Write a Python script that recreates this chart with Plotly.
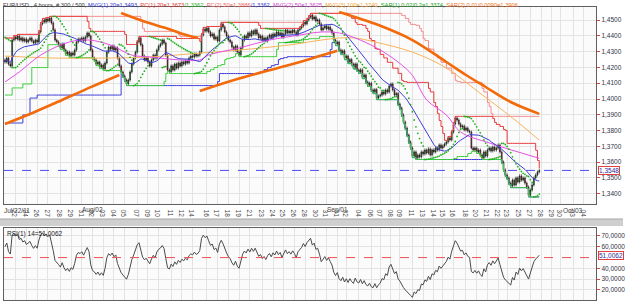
import plotly.graph_objects as go

# ---------------- data ----------------
CLOSE = [
1.4234, 1.4259, 1.4221, 1.4209, 1.4373, 1.4392, 1.4380, 1.4399, 1.4373, 1.4386,
1.4367, 1.4380, 1.4361, 1.4373, 1.4386, 1.4367, 1.4354, 1.4373, 1.4361, 1.4424,
1.4475, 1.4500, 1.4487, 1.4506, 1.4494, 1.4513, 1.4481, 1.4437, 1.4373, 1.4361,
1.4342, 1.4323, 1.4348, 1.4310, 1.4285, 1.4297, 1.4272, 1.4291, 1.4278, 1.4310,
1.4361, 1.4380, 1.4373, 1.4386, 1.4367, 1.4392, 1.4418, 1.4399, 1.4310, 1.4259,
1.4247, 1.4221, 1.4234, 1.4202, 1.4215, 1.4190, 1.4228, 1.4297, 1.4329, 1.4316,
1.4335, 1.4310, 1.4323, 1.4259, 1.4209, 1.4171, 1.4146, 1.4120, 1.4095, 1.4120,
1.4171, 1.4221, 1.4259, 1.4297, 1.4361, 1.4386, 1.4342, 1.4272, 1.4247, 1.4259,
1.4234, 1.4209, 1.4247, 1.4278, 1.4259, 1.4310, 1.4335, 1.4348, 1.4373, 1.4354,
1.4278, 1.4184, 1.4171, 1.4209, 1.4184, 1.4221, 1.4196, 1.4228, 1.4209, 1.4234,
1.4221, 1.4240, 1.4228, 1.4259, 1.4272, 1.4266, 1.4285, 1.4272, 1.4278, 1.4297,
1.4405, 1.4443, 1.4430, 1.4449, 1.4424, 1.4399, 1.4411, 1.4380, 1.4392, 1.4367,
1.4437, 1.4475, 1.4456, 1.4424, 1.4399, 1.4373, 1.4361, 1.4329, 1.4310, 1.4335,
1.4297, 1.4278, 1.4323, 1.4373, 1.4399, 1.4386, 1.4418, 1.4399, 1.4430, 1.4411,
1.4437, 1.4411, 1.4386, 1.4399, 1.4373, 1.4386, 1.4367, 1.4392, 1.4405, 1.4386,
1.4411, 1.4399, 1.4424, 1.4405, 1.4418, 1.4392, 1.4411, 1.4437, 1.4418, 1.4430,
1.4418, 1.4437, 1.4424, 1.4405, 1.4437, 1.4449, 1.4462, 1.4487, 1.4475, 1.4500,
1.4519, 1.4532, 1.4506, 1.4519, 1.4494, 1.4500, 1.4475, 1.4437, 1.4449, 1.4462,
1.4443, 1.4456, 1.4437, 1.4418, 1.4373, 1.4348, 1.4360, 1.4310, 1.4291, 1.4305,
1.4259, 1.4272, 1.4234, 1.4250, 1.4221, 1.4200, 1.4222, 1.4184, 1.4171, 1.4185,
1.4139, 1.4152, 1.4108, 1.4089, 1.4100, 1.4057, 1.4044, 1.4060, 1.4006, 1.4019,
1.4025, 1.4044, 1.4032, 1.4057, 1.4044, 1.4082, 1.4095, 1.4057, 1.4025, 1.4035,
1.3968, 1.3943, 1.3899, 1.3854, 1.3816, 1.3772, 1.3728, 1.3690, 1.3639, 1.3665,
1.3627, 1.3646, 1.3633, 1.3665, 1.3652, 1.3677, 1.3658, 1.3684, 1.3646, 1.3677,
1.3665, 1.3690, 1.3677, 1.3709, 1.3690, 1.3703, 1.3715, 1.3728, 1.3753, 1.3741,
1.3791, 1.3842, 1.3880, 1.3867, 1.3842, 1.3823, 1.3829, 1.3804, 1.3816, 1.3797,
1.3791, 1.3690, 1.3677, 1.3690, 1.3665, 1.3677, 1.3646, 1.3627, 1.3665, 1.3639,
1.3677, 1.3690, 1.3671, 1.3696, 1.3677, 1.3690, 1.3709, 1.3665, 1.3601, 1.3551,
1.3519, 1.3500, 1.3468, 1.3449, 1.3487, 1.3456, 1.3500, 1.3475, 1.3513, 1.3487,
1.3500, 1.3468, 1.3443, 1.3390, 1.3424, 1.3456, 1.3500, 1.3519, 1.3538, 1.3548,
]
FIRST_OPEN = 1.4247
WICK = 0.0010

MA50_BARS = [0, 8, 20, 36, 47, 59, 71, 81, 98, 109, 114, 131, 148, 165, 177, 187,
             196, 208, 220, 228, 236, 247, 255, 271, 299]
MA50_VALS = [1.4108, 1.4171, 1.4278, 1.4361, 1.4373, 1.4342, 1.4278, 1.4266, 1.4247,
             1.4247, 1.4278, 1.4323, 1.4373, 1.4405, 1.4424, 1.4418, 1.4386, 1.4323,
             1.4234, 1.4150, 1.3994, 1.3899, 1.3791, 1.3722, 1.3625]
MA100_BARS = [0, 28, 56, 81, 103, 131, 159, 177, 187, 196, 207, 228, 247, 265, 284, 299]
MA100_VALS = [1.4272, 1.4259, 1.4259, 1.4266, 1.4285, 1.4310, 1.4342, 1.4373, 1.4386,
              1.4386, 1.4361, 1.4297, 1.4196, 1.4044, 1.3880, 1.3740]

# slow SAR(2), one list per trend leg
SAR2_LEGS = [
    ([0, 16, 32, 48, 64], [1.3842, 1.3915, 1.3994, 1.4075, 1.4152]),
    ([65, 78, 90, 100, 108], [1.4544, 1.4490, 1.4449, 1.4410, 1.4386]),
    ([109, 131, 159, 177, 186], [1.4051, 1.4130, 1.4215, 1.4275, 1.4305]),
    ([187, 209, 228, 247, 258, 269, 283, 299],
     [1.4551, 1.4468, 1.4373, 1.4234, 1.4152, 1.4076, 1.3981, 1.3906]),
]

# channel levels left by bars before the visible window: (last bar affected, level)
PC1_UP_SEED = [(19, 1.4386)]
PC1_LO_SEED = [(3, 1.4025), (9, 1.4070), (14, 1.4095), (19, 1.4215)]
PC2_UP_SEED = [(49, 1.4386)]
PC2_LO_SEED = [(9, 1.3848), (13, 1.3899), (17, 1.4006), (64, 1.4025)]
SAR1_START = dict(sar=1.4390, up=False, ep=1.4200, af=0.04)
RSI_START = (0.0012, 0.0008)
RSI_LAST_TEXT = "51,0062"

TICK_POS = [6, 12, 18, 24, 31, 37, 43, 49, 55, 61, 67, 74, 80, 86, 93, 99, 105, 113,
            119, 125, 131, 137, 144, 150, 156, 162, 168, 174, 180, 186, 191, 198, 205,
            210, 216, 221, 228, 234, 240, 245, 251, 258, 264, 270, 276, 281, 288, 294,
            300, 306, 311, 318, 324]
TICK_TEXT = ["22", "24", "26", "27", "28", "29", "31", "02", "03", "04", "05", "07",
             "09", "10", "11", "12", "14", "16", "17", "18", "19", "21", "23", "24",
             "25", "26", "28", "30", "31", "01", "02", "04", "06", "07", "08", "09",
             "11", "13", "14", "15", "16", "18", "20", "21", "22", "23", "25", "27",
             "28", "29", "30", "03", "04"]
MONTH_POS = [7, 49, 186, 318]
MONTH_TEXT = ["Jul/22/11", "Aug/02", "Sep/01", "Oct/03"]
PRICE_TICKS = [1.34, 1.35, 1.36, 1.37, 1.38, 1.39, 1.40, 1.41, 1.42, 1.43, 1.44, 1.45]
RSI_TICKS = [20, 30, 40, 60, 70]

# ---------------- derived series ----------------
n = len(CLOSE)
X = list(range(n))
OPEN = [FIRST_OPEN] + CLOSE[:-1]
HIGH = [max(o, c) + WICK for o, c in zip(OPEN, CLOSE)]
LOW = [min(o, c) - WICK for o, c in zip(OPEN, CLOSE)]


def ma(vals, w):
    out = []
    for i in range(len(vals)):
        seg = vals[max(0, i - w + 1):i + 1]
        out.append(sum(seg) / len(seg))
    return out


def seed_at(seed, i):
    for last, v in seed:
        if i <= last:
            return v
    return None


def channel(w, seed_up, seed_lo):
    up, lo = [], []
    for i in range(n):
        a = max(0, i - w + 1)
        h = max(HIGH[a:i + 1])
        l = min(LOW[a:i + 1])
        su, sl = seed_at(seed_up, i), seed_at(seed_lo, i)
        if su is not None:
            h = max(h, su)
        if sl is not None:
            l = min(l, sl)
        up.append(h)
        lo.append(l)
    return up, lo


def psar(step, maxaf, start):
    sar, up, ep, af = start["sar"], start["up"], start["ep"], start["af"]
    out = []
    for i in range(n):
        if i > 0:
            sar = sar + af * (ep - sar)
            if up:
                sar = min(sar, LOW[i - 1], LOW[max(0, i - 2)])
                if LOW[i] < sar:
                    up, sar, ep, af = False, ep, LOW[i], step
                elif HIGH[i] > ep:
                    ep, af = HIGH[i], min(af + step, maxaf)
            else:
                sar = max(sar, HIGH[i - 1], HIGH[max(0, i - 2)])
                if HIGH[i] > sar:
                    up, sar, ep, af = True, ep, HIGH[i], step
                elif LOW[i] < ep:
                    ep, af = LOW[i], min(af + step, maxaf)
        out.append(sar)
    return out


def rsi(vals, w, seed):
    ag, al = seed
    out = []
    for i in range(len(vals)):
        if i > 0:
            d = vals[i] - vals[i - 1]
            ag = (ag * (w - 1) + max(d, 0)) / w
            al = (al * (w - 1) + max(-d, 0)) / w
        out.append(100 - 100 / (1 + ag / al) if al > 0 else 100)
    return out


MA20 = ma(CLOSE, 20)
PC1_UP, PC1_LO = channel(20, PC1_UP_SEED, PC1_LO_SEED)
PC2_UP, PC2_LO = channel(50, PC2_UP_SEED, PC2_LO_SEED)
SAR1 = psar(0.02, 0.2, SAR1_START)
RSI = rsi(CLOSE, 14, RSI_START)

# ---------------- figure ----------------
W, H = 625, 303
def py(p):  # pixel row -> paper fraction
    return (H - p) / H
def px(p):
    return p / W

FONT = "Liberation Sans, Arial, sans-serif"
fig = go.Figure()

fig.add_trace(go.Candlestick(
    x=X, open=OPEN, high=HIGH, low=LOW, close=CLOSE,
    increasing=dict(line=dict(color="#141414", width=0.6), fillcolor="#0c8c1c"),
    decreasing=dict(line=dict(color="#141414", width=0.6), fillcolor="#b81818"),
    whiskerwidth=0, xaxis="x", yaxis="y", hoverinfo="skip"))

def line(y, color, width=1, shape="linear", xs=None):
    fig.add_trace(go.Scatter(x=xs if xs is not None else X, y=y, mode="lines",
                             line=dict(color=color, width=width, shape=shape),
                             xaxis="x", yaxis="y", hoverinfo="skip"))

line(PC2_UP, "#f58a8a", 1, "hv")
line(PC1_UP, "#e83a3a", 1, "hv")
line(PC2_LO, "#3b3bdc", 1, "hv")
line(PC1_LO, "#3ccf3c", 1, "hv")
line(MA100_VALS, "#f7b45a", 1, "spline", MA100_BARS)
line(MA50_VALS, "#e650e6", 1, "spline", MA50_BARS)
line(MA20, "#3d3dd6", 1)

fig.add_trace(go.Scatter(x=X, y=SAR1, mode="markers",
                         marker=dict(color="#22b022", size=1.8),
                         xaxis="x", yaxis="y", hoverinfo="skip"))
for bars, vals in SAR2_LEGS:
    line(vals, "#f26a0a", 2.6, "spline", bars)

fig.add_trace(go.Scatter(x=X, y=RSI, mode="lines",
                         line=dict(color="#4b4b4b", width=1),
                         xaxis="x2", yaxis="y2", hoverinfo="skip"))

xr = [-0.56, 330.8]
grid = "#e3e3e3"
axis_common = dict(range=xr, tickvals=TICK_POS, ticktext=TICK_TEXT, showgrid=True,
                   gridcolor=grid, gridwidth=1, zeroline=False, showline=True,
                   mirror=True, linecolor="#606060", linewidth=1,
                   domain=[px(4), px(598)], fixedrange=True)

fig.update_layout(
    width=W, height=H, margin=dict(l=0, r=0, t=0, b=0),
    paper_bgcolor="#ffffff", plot_bgcolor="#fbfbfb", showlegend=False,
    font=dict(family=FONT, size=7, color="#333333"),
    xaxis=dict(**axis_common, anchor="y", rangeslider=dict(visible=False),
               ticks="", tickfont=dict(size=6.5, color="#444444")),
    yaxis=dict(domain=[py(204), py(7)], range=[1.33354, 1.45823], side="right",
               tickvals=PRICE_TICKS, ticktext=[f"{v:.4f}".replace(".", ",") for v in PRICE_TICKS],
               ticks="outside", ticklen=3, tickcolor="#e04040",
               tickfont=dict(size=6.5, color="#333344"), showgrid=True, gridcolor=grid,
               zeroline=False, showline=True, mirror=True, linecolor="#606060",
               anchor="x", fixedrange=True),
    xaxis2=dict(**axis_common, anchor="y2", showticklabels=False, ticks=""),
    yaxis2=dict(domain=[py(300), py(228)], range=[10.7, 77.4], side="right",
                tickvals=RSI_TICKS,
                ticktext=[f"{v:.4f}".replace(".", ",") for v in RSI_TICKS],
                ticks="outside", ticklen=3, tickcolor="#e04040",
                tickfont=dict(size=6.5, color="#333344"), showgrid=True, gridcolor=grid,
                zeroline=False, showline=True, mirror=True, linecolor="#606060",
                anchor="x2", fixedrange=True),
)

# separator band between the panels
fig.add_shape(type="rect", xref="paper", yref="paper", x0=0, x1=1, y0=py(226), y1=py(219),
              fillcolor="#cfcfcf", line=dict(width=0), layer="below")
fig.add_shape(type="line", xref="paper", yref="paper", x0=0, x1=1, y0=py(219), y1=py(219),
              line=dict(color="#a8a8a8", width=1))

# current price line and RSI mid line
fig.add_shape(type="line", xref="x", yref="y", x0=xr[0], x1=xr[1], y0=CLOSE[-1], y1=CLOSE[-1],
              line=dict(color="#4b4bf0", width=1, dash="dash"))
fig.add_shape(type="line", xref="x2", yref="y2", x0=xr[0], x1=xr[1], y0=50, y1=50,
              line=dict(color="#f05050", width=1, dash="dash"))

fig.add_annotation(x=px(600), y=CLOSE[-1], xref="paper", yref="y", xanchor="left",
                   text=f"{CLOSE[-1]:.4f}".replace(".", ","), showarrow=False,
                   font=dict(size=6.5, color="#2a2a9a"), bordercolor="#e04040",
                   borderwidth=1, borderpad=0, bgcolor="#ffffff")
fig.add_annotation(x=px(600), y=RSI[-1], xref="paper", yref="y2", xanchor="left",
                   text=RSI_LAST_TEXT, showarrow=False,
                   font=dict(size=6.5, color="#2a2a9a"), bordercolor="#e04040",
                   borderwidth=1, borderpad=0, bgcolor="#ffffff")

for pos, txt in zip(MONTH_POS, MONTH_TEXT):
    fig.add_annotation(x=pos, y=py(216), xref="x", yref="paper", text=txt,
                       showarrow=False, font=dict(size=6.5, color="#444444"))

hdr = ("EUR/USD , 4 hours, # 300 / 500, "
       "<span style='color:#3030d0'>MVG(1) 20=1,3493</span>, "
       "<span style='color:#e03030'>PC(1) 20=1,3673</span>"
       "<span style='color:#20b020'>/1,3362</span>, "
       "<span style='color:#f06060'>PC(2) 50=1,3886</span>"
       "<span style='color:#3030d0'>/1,3362</span>, "
       "<span style='color:#d040d0'>MVG(2) 50=1,3625</span>, "
       "<span style='color:#f0a030'>MVG(3) 100=1,3740</span>, "
       "<span style='color:#20a020'>SAR(1) 0.02/0.2=1,3374</span>, "
       "<span style='color:#f07020'>SAR(2) 0.01/0.0090=1,3906</span>")
fig.add_annotation(x=px(1), y=py(0), xref="paper", yref="paper", xanchor="left",
                   yanchor="top", text=hdr, showarrow=False,
                   font=dict(size=5.75, color="#333333"))
fig.add_annotation(x=px(5), y=py(228), xref="paper", yref="paper", xanchor="left",
                   yanchor="top", text="RSI(1) 14=" + RSI_LAST_TEXT,
                   showarrow=False, font=dict(size=6.5, color="#222222"))

fig.write_html("out.html")
